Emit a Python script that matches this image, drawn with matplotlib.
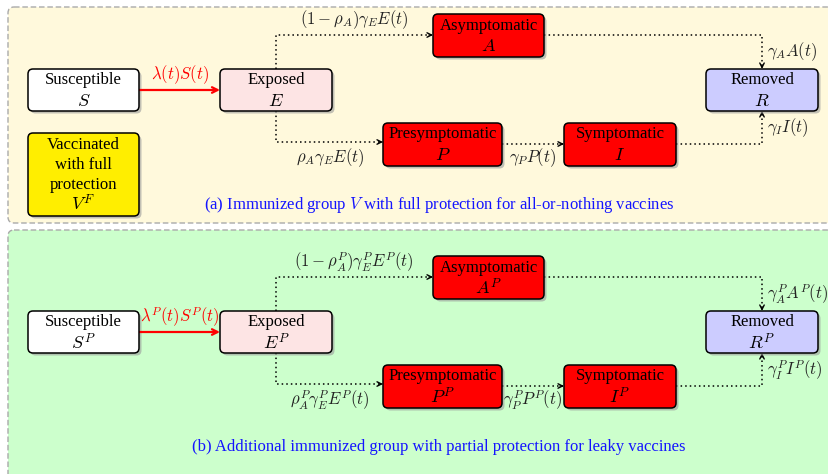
import matplotlib
matplotlib.use("Agg")
import matplotlib.pyplot as plt
from matplotlib.patches import FancyBboxPatch

plt.rcParams['mathtext.fontset'] = 'cm'
plt.rcParams['font.family'] = ['Liberation Serif', 'DejaVu Serif']

# Texte der Kästen
titles = ['Susceptible', 'Exposed', 'Asymptomatic', 'Presymptomatic', 'Symptomatic', 'Removed']
symbols_a = ['$S$', '$E$', '$A$', '$P$', '$I$', '$R$']
symbols_b = ['$S^P$', '$E^P$', '$A^P$', '$P^P$', '$I^P$', '$R^P$']
box_colors = ['white', '#fde4e4', '#ff0000', '#ff0000', '#ff0000', '#ccccff']

# Raten an den Pfeilen
rates_a = [r'$\lambda(t)S(t)$', r'$(1-\rho_A)\gamma_E E(t)$', r'$\rho_A\gamma_E E(t)$',
           r'$\gamma_P P(t)$', r'$\gamma_A A(t)$', r'$\gamma_I I(t)$']
rates_b = [r'$\lambda^P(t)S^P(t)$', r'$(1-\rho_A^P)\gamma_E^P E^P(t)$', r'$\rho_A^P\gamma_E^P E^P(t)$',
           r'$\gamma_P^P P^P(t)$', r'$\gamma_A^P A^P(t)$', r'$\gamma_I^P I^P(t)$']

captions = [r'(a) Immunized group $V$ with full protection for all-or-nothing vaccines',
            '(b) Additional immunized group with partial protection for leaky vaccines']

fig = plt.figure(figsize=(8.29, 4.74), dpi=100)
ax = fig.add_axes([0, 0, 1, 1])
ax.set_xlim(0, 829)
ax.set_ylim(474, 0)
ax.axis('off')


def box(x0, y0, x1, y1, title, sym, color):
    sh = FancyBboxPatch((x0 + 2.5, y0 + 2.5), x1 - x0, y1 - y0,
                        boxstyle='round,pad=0,rounding_size=5',
                        fc='#9a9a9a', ec='none', alpha=0.6, zorder=2)
    ax.add_patch(sh)
    b = FancyBboxPatch((x0, y0), x1 - x0, y1 - y0,
                       boxstyle='round,pad=0,rounding_size=5',
                       fc=color, ec='black', lw=1.1, zorder=3)
    ax.add_patch(b)
    cx = (x0 + x1) / 2
    cy = (y0 + y1) / 2
    ax.text(cx, cy - 10, title, ha='center', va='center', fontsize=12, zorder=4)
    ax.text(cx, cy + 11, sym, ha='center', va='center', fontsize=13, zorder=4)


def dotted_path(pts):
    xs = [p[0] for p in pts]
    ys = [p[1] for p in pts]
    ax.plot(xs, ys, color='black', lw=1.1, ls=(0, (1, 2)), zorder=1)
    (xa, ya), (xb, yb) = pts[-2], pts[-1]
    dx = xb - xa
    dy = yb - ya
    n = (dx ** 2 + dy ** 2) ** 0.5
    ax.annotate('', xy=(xb, yb), xytext=(xb - 4 * dx / n, yb - 4 * dy / n),
                arrowprops=dict(arrowstyle='->', lw=1.0, color='black',
                                shrinkA=0, shrinkB=0, mutation_scale=8), zorder=1)


def panel(off, symbols, rates, caption, bg, vaccinated):
    if vaccinated:
        bgp = FancyBboxPatch((8, 7), 840, 216, boxstyle='round,pad=0,rounding_size=6',
                             fc=bg, ec='#aaaaaa', lw=1.0, ls=(0, (4, 2)), zorder=0)
    else:
        bgp = FancyBboxPatch((8, 230), 840, 260, boxstyle='round,pad=0,rounding_size=6',
                             fc=bg, ec='#aaaaaa', lw=1.0, ls=(0, (4, 2)), zorder=0)
    ax.add_patch(bgp)

    box(28, 69 + off, 139, 111 + off, titles[0], symbols[0], box_colors[0])
    box(220, 69 + off, 332, 111 + off, titles[1], symbols[1], box_colors[1])
    box(433, 14 + off, 544, 57 + off, titles[2], symbols[2], box_colors[2])
    box(383, 123 + off, 502, 166 + off, titles[3], symbols[3], box_colors[3])
    box(564, 123 + off, 676, 166 + off, titles[4], symbols[4], box_colors[4])
    box(706, 69 + off, 818, 111 + off, titles[5], symbols[5], box_colors[5])

    # S -> E
    ax.annotate('', xy=(220, 90 + off), xytext=(139, 90 + off),
                arrowprops=dict(arrowstyle='->', lw=1.6, color='red',
                                shrinkA=0, shrinkB=0, mutation_scale=10), zorder=2)
    ax.text(180, 75 + off, rates[0], color='red', ha='center', va='center', fontsize=12)

    dotted_path([(276, 69 + off), (276, 35 + off), (433, 35 + off)])
    ax.text(354, 20 + off, rates[1], ha='center', va='center', fontsize=12, color='#222222')

    dotted_path([(276, 111 + off), (276, 142 + off), (383, 142 + off)])
    ax.text(330, 158 + off, rates[2], ha='center', va='center', fontsize=12, color='#222222')

    dotted_path([(502, 144 + off), (564, 144 + off)])
    ax.text(533, 158 + off, rates[3], ha='center', va='center', fontsize=12, color='#222222')

    dotted_path([(544, 35 + off), (762, 35 + off), (762, 69 + off)])
    ax.text(767, 52 + off, rates[4], ha='left', va='center', fontsize=12, color='#222222')

    dotted_path([(676, 144 + off), (762, 144 + off), (762, 111 + off)])
    ax.text(767, 128 + off, rates[5], ha='left', va='center', fontsize=12, color='#222222')

    ax.text(439, 205 + off, caption, color='#1414ff', ha='center', va='center', fontsize=12)

    if vaccinated:
        sh = FancyBboxPatch((30.5, 135.5), 111, 83, boxstyle='round,pad=0,rounding_size=5',
                            fc='#9a9a9a', ec='none', alpha=0.6, zorder=2)
        ax.add_patch(sh)
        vb = FancyBboxPatch((28, 133), 111, 83, boxstyle='round,pad=0,rounding_size=5',
                            fc='#ffee00', ec='black', lw=1.1, zorder=3)
        ax.add_patch(vb)
        for i, t in enumerate(['Vaccinated', 'with full', 'protection']):
            ax.text(83.5, 145 + 20 * i, t, ha='center', va='center', fontsize=12, zorder=4)
        ax.text(83.5, 204, '$V^F$', ha='center', va='center', fontsize=13, zorder=4)


panel(0, symbols_a, rates_a, captions[0], '#fff9dc', True)
panel(242, symbols_b, rates_b, captions[1], '#ccffcc', False)

fig.savefig('out.png', dpi=100)
